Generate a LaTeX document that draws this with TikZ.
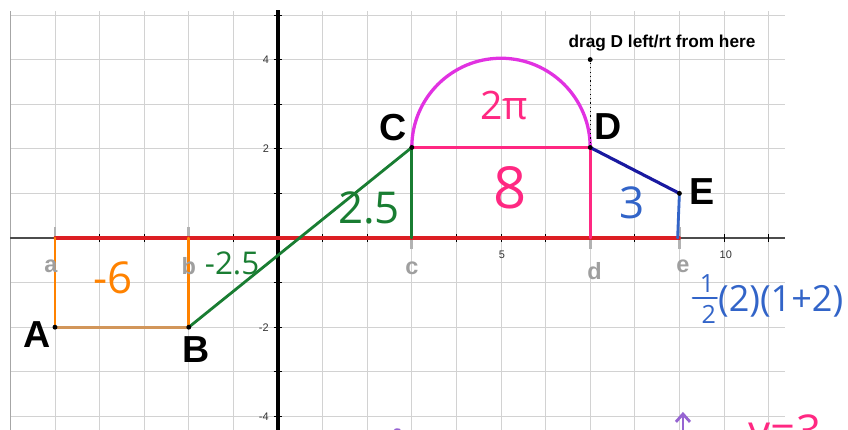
\documentclass[tikz,border=0pt]{standalone}
\usepackage{fontspec}
\setmainfont{Liberation Sans}
\newfontfamily\handfont{Open Sans}
\usetikzlibrary{arrows.meta}
\definecolor{axisred}{RGB}{220,30,35}
\definecolor{handorange}{RGB}{255,130,0}
\definecolor{abtan}{RGB}{210,150,90}
\definecolor{handgreen}{RGB}{25,125,50}
\definecolor{handpink}{RGB}{255,40,130}
\definecolor{arcmagenta}{RGB}{225,50,225}
\definecolor{linkblue}{RGB}{25,25,160}
\definecolor{handblue}{RGB}{50,100,200}
\definecolor{handpurple}{RGB}{150,100,210}
\tikzset{
  gridline/.style={draw=gray!35, line width=0.6pt},
  hand/.style={line width=1.8pt, line cap=round},
  tickmark/.style={draw=black, line width=0.6pt},
  markerbar/.style={draw=gray!60, line width=1.8pt},
  pointlabel/.style={font=\bfseries\fontsize{24}{24}\selectfont},
  axisletter/.style={font=\bfseries\fontsize{15}{15}\selectfont, text=gray!75},
  ticklabel/.style={font=\fontsize{7}{7}\selectfont, text=black!80, inner sep=0pt},
  handnote/.style={font=\handfont\fontsize{#1}{#1}\selectfont, inner sep=0pt}
}
\begin{document}
\begin{tikzpicture}
\useasboundingbox (-6.233,-4.283) rectangle (12.78,5.336);
\clip (-6.233,-4.283) rectangle (12.78,5.336);

\draw[gridline] (-6,-4.4) grid (11.37,5.08);
\draw[gray!70, line width=0.8pt] (-6,-4.4) -- (-6,5.08);

\coordinate (xleft) at (-6,0);
\coordinate (xright) at (11.37,0);
\coordinate (ytop) at (0,5.12);
\coordinate (ybottom) at (0,-4.4);
\draw[black!70, line width=0.9pt] (xleft) -- (xright);
\draw[black, line width=2pt] (ybottom) -- (ytop);

\foreach \x in {-5,...,11}
  \draw[tickmark] (\x,-0.09) -- (\x,0.09);
\foreach \y in {-4,...,5}
  \draw[tickmark] (-0.1,\y) -- (0.1,\y);

\node[ticklabel] (t5) at (5.02,-0.38) {5};
\node[ticklabel] (t10) at (10.04,-0.38) {10};
\node[ticklabel] (t4) at (-0.27,4) {4};
\node[ticklabel] (t2) at (-0.27,2) {2};
\node[ticklabel] (tm2) at (-0.32,-2) {-2};
\node[ticklabel] (tm4) at (-0.32,-4) {-4};

\coordinate (a) at (-5,0);
\coordinate (b) at (-2,0);
\coordinate (c) at (3,0);
\coordinate (d) at (7,0);
\coordinate (e) at (9,0);
\coordinate (A) at (-5,-2);
\coordinate (B) at (-2,-2);
\coordinate (C) at (3,2.03);
\coordinate (D) at (7,2.03);
\coordinate (E) at (9,1);
\coordinate (drag) at (7,4);
\coordinate (eh) at (8.96,0);

\foreach \m in {a,b,c,d,e}
  \draw[markerbar] ([yshift=-0.25cm]\m) -- ([yshift=0.25cm]\m);

\draw[hand, axisred, line width=2pt] (a) -- (e);
\draw[hand, handorange] (a) -- (A);
\draw[hand, handorange] (b) -- (B);
\draw[hand, abtan] (A) -- (B);
\draw[hand, handgreen] (B) -- (C);
\draw[hand, handgreen] (C) -- (c);
\draw[hand, handpink] (C) -- (D);
\draw[hand, handpink] (D) -- (d);
\draw[hand, arcmagenta, line width=2.1pt] (C) arc[start angle=180, end angle=0, radius=2];
\draw[hand, linkblue, line width=2pt] (D) -- (E);
\draw[hand, handblue] (E) -- (eh);
\draw[black, line width=0.8pt, dotted] (D) -- (drag);

\foreach \p in {A,B,C,D,E,drag}
  \fill[black] (\p) circle (0.055);

\node[pointlabel] (labA) at (-5.4,-2.17) {A};
\node[pointlabel] (labB) at (-1.84,-2.51) {B};
\node[pointlabel] (labC) at (2.58,2.47) {C};
\node[pointlabel] (labD) at (7.4,2.49) {D};
\node[pointlabel] (labE) at (9.51,1.03) {E};
\node[font=\bfseries\fontsize{11}{11}\selectfont] (dragtext) at (8.61,4.37) {drag D left/rt from here};

\node[axisletter] (la) at (-5.09,-0.63) {a};
\node[axisletter] (lb) at (-2,-0.63) {b};
\node[axisletter] (lc) at (3,-0.67) {c};
\node[axisletter] (ld) at (7.1,-0.74) {d};
\node[axisletter] (le) at (9.08,-0.63) {e};

\node[handnote=28, text=handorange] (areaAB) at (-3.7,-0.9) {-6};
\node[handnote=20, text=handgreen] (areaBx) at (-1.03,-0.58) {-2.5};
\node[handnote=28, text=handgreen] (areaxC) at (2.04,0.67) {2.5};
\node[handnote=25, text=handpink] (areaarc) at (5.07,2.98) {2π};
\node[handnote=37, text=handpink] (areaCD) at (5.2,1.12) {8};
\node[handnote=28, text=handblue] (areaDE) at (7.94,0.78) {3};

\node[handnote=16, text=handblue] (halfnum) at (9.62,-1.02) {1};
\node[handnote=16, text=handblue] (halfden) at (9.66,-1.72) {2};
\coordinate (barleft) at (9.3,-1.34);
\coordinate (barright) at (9.84,-1.34);
\draw[hand, handblue, line width=1.4pt] (barleft) -- (barright);
\node[handnote=23, text=handblue] (trap) at (11.27,-1.43) {(2)(1+2)};

\coordinate (arrowtail) at (9.08,-4.45);
\coordinate (arrowtip) at (9.08,-3.9);
\draw[hand, handpurple, -{Straight Barb[length=5pt,width=9pt]}] (arrowtail) -- (arrowtip);
\draw[hand, handpurple] (2.62,-4.33) to[out=80,in=100] (2.73,-4.33);
\node[handnote=28, text=handpink, anchor=north west] (yeq) at (10.55,-3.95) {y=3};
\end{tikzpicture}
\end{document}
